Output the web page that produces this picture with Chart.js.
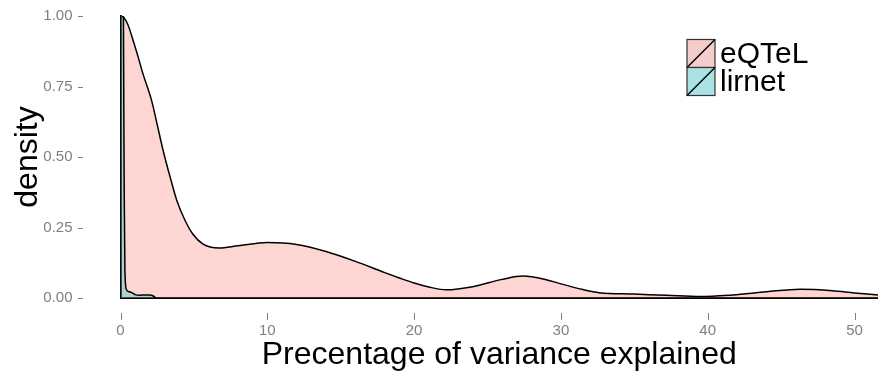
<!DOCTYPE html>
<html lang="en">
<head>
  <meta charset="UTF-8">
  <title>Variance explained density</title>
  <style>
    html, body { margin: 0; padding: 0; background: #fff; }
    .container { width: 878px; height: 376px; }
  </style>
</head>
<body>
  <div class="container">
    <canvas id="graficoDensidade"></canvas>
  </div>

  <script src="https://cdn.jsdelivr.net/npm/chart.js"></script>
  <script>
    // tick labels
    const xTicks = [0, 10, 20, 30, 40, 50];
    const yTicks = [0, 0.25, 0.5, 0.75, 1];

    // eQTeL density estimate
    const eqtelX = [0, 0.25, 0.5, 0.85, 1.2, 1.5, 2.12, 2.5, 2.9, 3.4, 3.83, 4.4, 4.95, 5.6, 6.7, 8, 10, 12, 14, 16, 18, 19, 20, 21, 22.2, 24, 26, 27.4, 29, 30, 31.5, 32.6, 35, 37.2, 39.5, 41.7, 44, 46.3, 48.5, 50, 51.6];
    const eqtelY = [1.0, 0.993, 0.97, 0.915, 0.855, 0.80, 0.70, 0.615, 0.524, 0.425, 0.347, 0.275, 0.225, 0.192, 0.177, 0.185, 0.197, 0.19, 0.165, 0.13, 0.09, 0.071, 0.053, 0.039, 0.029, 0.04, 0.066, 0.078, 0.065, 0.05, 0.03, 0.019, 0.014, 0.0095, 0.005, 0.011, 0.022, 0.031, 0.026, 0.018, 0.011];

    // lirnet density estimate (spike at zero runs off the top)
    const lirnetX = [0, 0.1, 0.2, 0.25, 0.3, 0.4, 0.6, 0.8, 1.0, 1.3, 1.7, 2.0, 2.2, 2.4];
    const lirnetY = [5, 3, 1.0, 0.4, 0.1, 0.03, 0.022, 0.018, 0.012, 0.01, 0.011, 0.011, 0.008, 0];

    const series = [
      { nome: 'eQTeL', xs: eqtelX, ys: eqtelY, cor: 'rgba(248,118,109,0.3)' },
      { nome: 'lirnet', xs: lirnetX, ys: lirnetY, cor: 'rgba(0,191,196,0.3)' }
    ];

    const fonte = "'Liberation Sans', Arial, sans-serif";
    const cinza = '#7f7f7f';

    // short grey tick marks, set apart from the plot panel
    const marcas = {
      id: 'marcas',
      afterDraw(chart) {
        const ctx = chart.ctx;
        const { x, y } = chart.scales;
        ctx.save();
        ctx.strokeStyle = cinza;
        ctx.lineWidth = 1;
        ctx.beginPath();
        yTicks.forEach(v => {
          const py = Math.round(y.getPixelForValue(v)) + 0.5;
          ctx.moveTo(78, py);
          ctx.lineTo(83, py);
        });
        xTicks.forEach(v => {
          const px = Math.round(x.getPixelForValue(v)) + 0.5;
          ctx.moveTo(px, 313);
          ctx.lineTo(px, 320);
        });
        ctx.stroke();
        ctx.restore();
      }
    };

    // legend keys with the diagonal stroke
    const legenda = {
      id: 'legenda',
      afterDraw(chart) {
        const ctx = chart.ctx;
        const left = 687, top = 39.5, size = 28;
        ctx.save();
        series.forEach((s, i) => {
          const y0 = top + i * size;
          ctx.fillStyle = '#f2f2f2';
          ctx.fillRect(left, y0, size, size);
          ctx.fillStyle = s.cor;
          ctx.fillRect(left, y0, size, size);
          ctx.strokeStyle = '#333';
          ctx.lineWidth = 1.2;
          ctx.strokeRect(left, y0, size, size);
          ctx.strokeStyle = '#000';
          ctx.lineWidth = 1.5;
          ctx.beginPath();
          ctx.moveTo(left, y0 + size);
          ctx.lineTo(left + size, y0);
          ctx.stroke();
          ctx.fillStyle = '#000';
          ctx.font = '30px ' + fonte;
          ctx.textBaseline = 'middle';
          ctx.textAlign = 'left';
          ctx.fillText(s.nome, left + size + 5, y0 + size / 2 + 1);
        });
        ctx.restore();
      }
    };

    const ctx = document.getElementById('graficoDensidade').getContext('2d');
    new Chart(ctx, {
      type: 'line',
      data: {
        datasets: series.map((s, i) => ({
          label: s.nome,
          data: s.xs.map((v, k) => ({ x: v, y: s.ys[k] })),
          backgroundColor: s.cor,
          borderColor: '#000',
          borderWidth: 1.5,
          pointRadius: 0,
          fill: 'origin',
          cubicInterpolationMode: 'monotone',
          order: i === 0 ? 2 : 1
        }))
      },
      options: {
        responsive: true,
        maintainAspectRatio: false,
        animation: false,
        layout: { padding: { top: 16, right: 0, left: 0, bottom: 0 } },
        plugins: {
          legend: { display: false },
          tooltip: { enabled: false }
        },
        scales: {
          x: {
            type: 'linear',
            min: 0,
            max: 51.6,
            afterFit(scale) {
              scale.height = 78;
              scale.paddingLeft = 0;
              scale.paddingRight = 0;
            },
            afterBuildTicks(scale) { scale.ticks = xTicks.map(v => ({ value: v })); },
            grid: { display: false, drawTicks: false },
            border: { display: true, color: '#000', width: 2 },
            ticks: {
              padding: 24,
              color: cinza,
              font: { family: fonte, size: 15 },
              maxRotation: 0
            },
            title: {
              display: true,
              text: 'Precentage of variance explained',
              color: '#000',
              font: { family: fonte, size: 32 },
              padding: { top: 0, bottom: 2 }
            }
          },
          y: {
            min: 0,
            max: 1,
            afterFit(scale) {
              scale.width = 120.5;
              scale.paddingTop = 0;
              scale.paddingBottom = 0;
            },
            afterBuildTicks(scale) { scale.ticks = yTicks.map(v => ({ value: v })); },
            grid: { display: false, drawTicks: false },
            border: { display: true, color: '#000', width: 2 },
            ticks: {
              padding: 48,
              color: cinza,
              font: { family: fonte, size: 15 },
              callback: v => v.toFixed(2)
            },
            title: {
              display: true,
              text: 'density',
              color: '#000',
              font: { family: fonte, size: 32 },
              padding: { top: 9, bottom: 0 }
            }
          }
        }
      },
      plugins: [marcas, legenda]
    });
  </script>
</body>
</html>
